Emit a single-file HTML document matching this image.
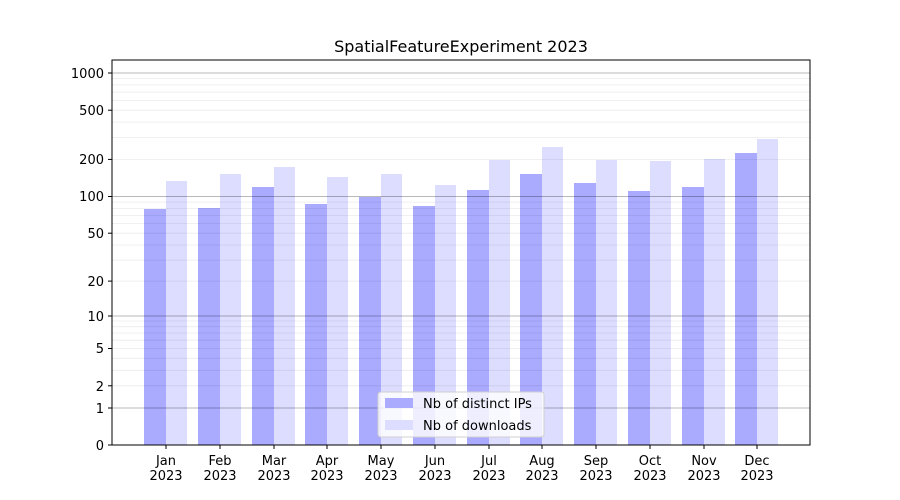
<!DOCTYPE html>
<html><head><meta charset="utf-8"><style>body{margin:0;background:#fff}svg{display:block}text{font-family:"DejaVu Sans","Liberation Sans",sans-serif;fill:#000}</style></head><body>
<svg width="900" height="500" xmlns="http://www.w3.org/2000/svg">
<rect width="900" height="500" fill="#fff"/>
<g>
<rect x="144" y="209" width="22" height="236" fill="#aaaaff"/><rect x="166" y="181" width="21" height="264" fill="#ddddff"/>
<rect x="198" y="208" width="22" height="237" fill="#aaaaff"/><rect x="220" y="174" width="21" height="271" fill="#ddddff"/>
<rect x="252" y="187" width="22" height="258" fill="#aaaaff"/><rect x="274" y="167" width="21" height="278" fill="#ddddff"/>
<rect x="305" y="204" width="22" height="241" fill="#aaaaff"/><rect x="327" y="177" width="21" height="268" fill="#ddddff"/>
<rect x="359" y="197" width="22" height="248" fill="#aaaaff"/><rect x="381" y="174" width="21" height="271" fill="#ddddff"/>
<rect x="413" y="206" width="22" height="239" fill="#aaaaff"/><rect x="435" y="185" width="21" height="260" fill="#ddddff"/>
<rect x="467" y="190" width="22" height="255" fill="#aaaaff"/><rect x="489" y="160" width="21" height="285" fill="#ddddff"/>
<rect x="520" y="174" width="22" height="271" fill="#aaaaff"/><rect x="542" y="147" width="21" height="298" fill="#ddddff"/>
<rect x="574" y="183" width="22" height="262" fill="#aaaaff"/><rect x="596" y="160" width="21" height="285" fill="#ddddff"/>
<rect x="628" y="191" width="22" height="254" fill="#aaaaff"/><rect x="650" y="161" width="21" height="284" fill="#ddddff"/>
<rect x="682" y="187" width="22" height="258" fill="#aaaaff"/><rect x="704" y="159" width="21" height="286" fill="#ddddff"/>
<rect x="735" y="153" width="22" height="292" fill="#aaaaff"/><rect x="757" y="139" width="21" height="306" fill="#ddddff"/>
</g>
<g stroke="#000" stroke-opacity="0.08" stroke-width="0.8">
<line x1="112" x2="810" y1="385.8" y2="385.8"/><line x1="112" x2="810" y1="370.3" y2="370.3"/><line x1="112" x2="810" y1="358.3" y2="358.3"/><line x1="112" x2="810" y1="348.5" y2="348.5"/><line x1="112" x2="810" y1="340.2" y2="340.2"/><line x1="112" x2="810" y1="333" y2="333"/><line x1="112" x2="810" y1="326.7" y2="326.7"/><line x1="112" x2="810" y1="321" y2="321"/>
<line x1="112" x2="810" y1="281.1" y2="281.1"/><line x1="112" x2="810" y1="260.1" y2="260.1"/><line x1="112" x2="810" y1="245" y2="245"/><line x1="112" x2="810" y1="233.2" y2="233.2"/><line x1="112" x2="810" y1="223.6" y2="223.6"/><line x1="112" x2="810" y1="215.5" y2="215.5"/><line x1="112" x2="810" y1="208.4" y2="208.4"/><line x1="112" x2="810" y1="202.1" y2="202.1"/>
<line x1="112" x2="810" y1="159.4" y2="159.4"/><line x1="112" x2="810" y1="137.5" y2="137.5"/><line x1="112" x2="810" y1="122.1" y2="122.1"/><line x1="112" x2="810" y1="110.2" y2="110.2"/><line x1="112" x2="810" y1="100.4" y2="100.4"/><line x1="112" x2="810" y1="92.1" y2="92.1"/><line x1="112" x2="810" y1="84.9" y2="84.9"/><line x1="112" x2="810" y1="78.6" y2="78.6"/>
</g>
<g stroke="#000" stroke-opacity="0.28" stroke-width="0.9">
<line x1="112" x2="810" y1="408" y2="408"/><line x1="112" x2="810" y1="316" y2="316"/><line x1="112" x2="810" y1="196.5" y2="196.5"/><line x1="112" x2="810" y1="73" y2="73"/>
</g>
<rect x="112" y="60" width="698" height="385" fill="none" stroke="#000" stroke-width="1"/>
<g stroke="#000">
<line x1="108" x2="112" y1="445" y2="445"/><line x1="108" x2="112" y1="408" y2="408"/><line x1="108" x2="112" y1="385.8" y2="385.8"/><line x1="108" x2="112" y1="348.5" y2="348.5"/><line x1="108" x2="112" y1="316" y2="316"/><line x1="108" x2="112" y1="281.1" y2="281.1"/><line x1="108" x2="112" y1="233.2" y2="233.2"/><line x1="108" x2="112" y1="196.5" y2="196.5"/><line x1="108" x2="112" y1="159.4" y2="159.4"/><line x1="108" x2="112" y1="110.2" y2="110.2"/><line x1="108" x2="112" y1="73" y2="73"/>
<line x1="166" x2="166" y1="445" y2="449"/><line x1="220" x2="220" y1="445" y2="449"/><line x1="274" x2="274" y1="445" y2="449"/><line x1="327" x2="327" y1="445" y2="449"/><line x1="381" x2="381" y1="445" y2="449"/><line x1="435" x2="435" y1="445" y2="449"/><line x1="489" x2="489" y1="445" y2="449"/><line x1="542" x2="542" y1="445" y2="449"/><line x1="596" x2="596" y1="445" y2="449"/><line x1="650" x2="650" y1="445" y2="449"/><line x1="704" x2="704" y1="445" y2="449"/><line x1="757" x2="757" y1="445" y2="449"/>
</g>
<g font-size="13" text-anchor="end">
<text x="104" y="450">0</text><text x="104" y="413">1</text><text x="104" y="391">2</text><text x="104" y="353">5</text><text x="104" y="321">10</text><text x="104" y="286">20</text><text x="104" y="238">50</text><text x="104" y="201">100</text><text x="104" y="164">200</text><text x="104" y="115">500</text><text x="104" y="78">1000</text>
</g>
<g font-size="13" text-anchor="middle">
<text x="166" y="465">Jan</text><text x="166" y="480">2023</text>
<text x="220" y="465">Feb</text><text x="220" y="480">2023</text>
<text x="274" y="465">Mar</text><text x="274" y="480">2023</text>
<text x="327" y="465">Apr</text><text x="327" y="480">2023</text>
<text x="381" y="465">May</text><text x="381" y="480">2023</text>
<text x="435" y="465">Jun</text><text x="435" y="480">2023</text>
<text x="489" y="465">Jul</text><text x="489" y="480">2023</text>
<text x="542" y="465">Aug</text><text x="542" y="480">2023</text>
<text x="596" y="465">Sep</text><text x="596" y="480">2023</text>
<text x="650" y="465">Oct</text><text x="650" y="480">2023</text>
<text x="704" y="465">Nov</text><text x="704" y="480">2023</text>
<text x="757" y="465">Dec</text><text x="757" y="480">2023</text>
</g>
<text x="461" y="52" font-size="16" text-anchor="middle">SpatialFeatureExperiment 2023</text>
<rect x="378" y="392" width="166" height="45" rx="3" fill="#fff" fill-opacity="0.8" stroke="#d0d0d0"/>
<rect x="385" y="398" width="28" height="10" fill="#aaaaff"/>
<rect x="385" y="420" width="28" height="10" fill="#ddddff"/>
<text x="423" y="408" font-size="13">Nb of distinct IPs</text>
<text x="423" y="430" font-size="13">Nb of downloads</text>
</svg>
</body></html>
